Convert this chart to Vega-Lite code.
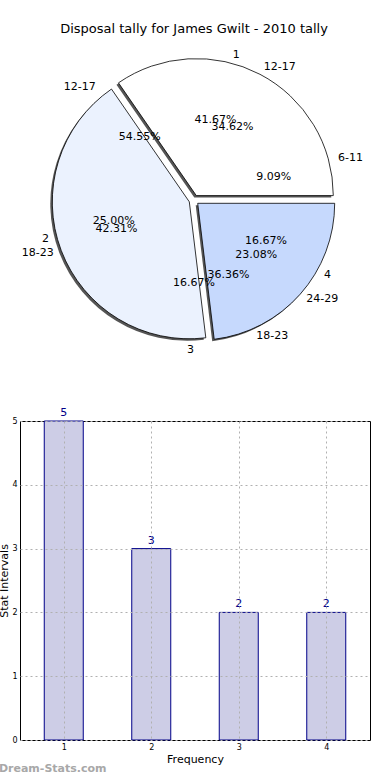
{
  "$schema": "https://vega.github.io/schema/vega-lite/v6.json",
  "padding": {"top": 23, "left": -2, "right": 0, "bottom": 0},
  "bounds": "flush",
  "spacing": 61,
  "config": {"font": "DejaVu Sans", "view": {"stroke": null}},
  "datasets": {
    "A": [
      {"k": 1, "label": "1", "v": 5, "pct": "41.67%"},
      {"k": 2, "label": "2", "v": 3, "pct": "25.00%"},
      {"k": 3, "label": "3", "v": 2, "pct": "16.67%"},
      {"k": 4, "label": "4", "v": 2, "pct": "16.67%"}
    ],
    "B": [
      {"k": 1, "label": "6-11", "v": 1, "pct": "9.09%"},
      {"k": 2, "label": "12-17", "v": 6, "pct": "54.55%"},
      {"k": 3, "label": "18-23", "v": 4, "pct": "36.36%"}
    ],
    "C": [
      {"k": 1, "label": "12-17", "v": 9, "pct": "34.62%"},
      {"k": 2, "label": "18-23", "v": 11, "pct": "42.31%"},
      {"k": 3, "label": "24-29", "v": 6, "pct": "23.08%"}
    ],
    "bars": [
      {"freq": 1, "count": 5},
      {"freq": 2, "count": 3},
      {"freq": 3, "count": 2},
      {"freq": 4, "count": 2}
    ]
  },
  "vconcat": [
    {
      "width": 348,
      "height": 320,
      "title": {"text": "Disposal tally for James Gwilt - 2010 tally", "fontSize": 13, "fontWeight": "normal", "offset": 4, "anchor": "middle", "color": "black"},
      "resolve": {"scale": {"theta": "independent"}},
      "layer": [
        {
          "data": {"name": "C"},
          "mark": {"type": "arc", "outerRadius": 137, "fill": "#555555", "xOffset": 0.3, "yOffset": -2.4},
          "encoding": {
            "theta": {"field": "v", "type": "quantitative", "stack": true, "scale": {"range": [1.5708, -4.7124]}},
            "order": {"field": "k"},
            "opacity": {"condition": {"test": "datum.k == 1", "value": 1}, "value": 0}
          }
        },
        {
          "data": {"name": "C"},
          "mark": {"type": "arc", "outerRadius": 137, "fill": "#555555", "xOffset": -6.7, "yOffset": 3.8},
          "encoding": {
            "theta": {"field": "v", "type": "quantitative", "stack": true, "scale": {"range": [1.5708, -4.7124]}},
            "order": {"field": "k"},
            "opacity": {"condition": {"test": "datum.k == 2", "value": 1}, "value": 0}
          }
        },
        {
          "data": {"name": "C"},
          "mark": {"type": "arc", "outerRadius": 137, "fill": "#555555", "xOffset": 1.7, "yOffset": 5.3},
          "encoding": {
            "theta": {"field": "v", "type": "quantitative", "stack": true, "scale": {"range": [1.5708, -4.7124]}},
            "order": {"field": "k"},
            "opacity": {"condition": {"test": "datum.k == 3", "value": 1}, "value": 0}
          }
        },
        {
          "data": {"name": "C"},
          "mark": {"type": "arc", "outerRadius": 137, "stroke": "black", "strokeWidth": 0.8, "xOffset": 2.3, "yOffset": -4.4},
          "encoding": {
            "theta": {"field": "v", "type": "quantitative", "stack": true, "scale": {"range": [1.5708, -4.7124]}},
            "order": {"field": "k"},
            "color": {"field": "k", "type": "nominal", "scale": {"domain": [1, 2, 3], "range": ["#ffffff", "#ebf2fe", "#c6d9fd"]}, "legend": null},
            "opacity": {"condition": {"test": "datum.k == 1", "value": 1}, "value": 0}
          }
        },
        {
          "data": {"name": "C"},
          "mark": {"type": "arc", "outerRadius": 137, "stroke": "black", "strokeWidth": 0.8, "xOffset": -4.7, "yOffset": 1.8},
          "encoding": {
            "theta": {"field": "v", "type": "quantitative", "stack": true, "scale": {"range": [1.5708, -4.7124]}},
            "order": {"field": "k"},
            "color": {"field": "k", "type": "nominal", "scale": {"domain": [1, 2, 3], "range": ["#ffffff", "#ebf2fe", "#c6d9fd"]}, "legend": null},
            "opacity": {"condition": {"test": "datum.k == 2", "value": 1}, "value": 0}
          }
        },
        {
          "data": {"name": "C"},
          "mark": {"type": "arc", "outerRadius": 137, "stroke": "black", "strokeWidth": 0.8, "xOffset": 3.7, "yOffset": 3.3},
          "encoding": {
            "theta": {"field": "v", "type": "quantitative", "stack": true, "scale": {"range": [1.5708, -4.7124]}},
            "order": {"field": "k"},
            "color": {"field": "k", "type": "nominal", "scale": {"domain": [1, 2, 3], "range": ["#ffffff", "#ebf2fe", "#c6d9fd"]}, "legend": null},
            "opacity": {"condition": {"test": "datum.k == 3", "value": 1}, "value": 0}
          }
        },
        {
          "data": {"name": "A"},
          "mark": {"type": "text", "radius": 83, "fontSize": 11, "baseline": "middle", "align": "center", "color": "black"},
          "encoding": {
            "theta": {"field": "v", "type": "quantitative", "stack": true, "scale": {"range": [1.5708, -4.7124]}},
            "order": {"field": "k"},
            "text": {"field": "pct"}
          }
        },
        {
          "data": {"name": "B"},
          "mark": {"type": "text", "radius": 83, "fontSize": 11, "baseline": "middle", "align": "center", "color": "black"},
          "encoding": {
            "theta": {"field": "v", "type": "quantitative", "stack": true, "scale": {"range": [1.5708, -4.7124]}},
            "order": {"field": "k"},
            "text": {"field": "pct"}
          }
        },
        {
          "data": {"name": "C"},
          "mark": {"type": "text", "radius": 83, "fontSize": 11, "baseline": "middle", "align": "center", "color": "black"},
          "encoding": {
            "theta": {"field": "v", "type": "quantitative", "stack": true, "scale": {"range": [1.5708, -4.7124]}},
            "order": {"field": "k"},
            "text": {"field": "pct"}
          }
        },
        {
          "data": {"name": "A"},
          "mark": {"type": "text", "radius": 150, "fontSize": 11, "baseline": "middle", "align": "left", "color": "black"},
          "encoding": {
            "theta": {"field": "v", "type": "quantitative", "stack": true, "scale": {"range": [1.5708, -4.7124]}},
            "order": {"field": "k"},
            "text": {"field": "label"},
            "opacity": {"condition": {"test": "datum.k == 1 || datum.k == 4", "value": 1}, "value": 0}
          }
        },
        {
          "data": {"name": "A"},
          "mark": {"type": "text", "radius": 150, "fontSize": 11, "baseline": "middle", "align": "right", "color": "black"},
          "encoding": {
            "theta": {"field": "v", "type": "quantitative", "stack": true, "scale": {"range": [1.5708, -4.7124]}},
            "order": {"field": "k"},
            "text": {"field": "label"},
            "opacity": {"condition": {"test": "datum.k == 2 || datum.k == 3", "value": 1}, "value": 0}
          }
        },
        {
          "data": {"name": "B"},
          "mark": {"type": "text", "radius": 150, "fontSize": 11, "baseline": "middle", "align": "left", "color": "black"},
          "encoding": {
            "theta": {"field": "v", "type": "quantitative", "stack": true, "scale": {"range": [1.5708, -4.7124]}},
            "order": {"field": "k"},
            "text": {"field": "label"},
            "opacity": {"condition": {"test": "datum.k == 1 || datum.k == 3", "value": 1}, "value": 0}
          }
        },
        {
          "data": {"name": "B"},
          "mark": {"type": "text", "radius": 150, "fontSize": 11, "baseline": "middle", "align": "right", "color": "black"},
          "encoding": {
            "theta": {"field": "v", "type": "quantitative", "stack": true, "scale": {"range": [1.5708, -4.7124]}},
            "order": {"field": "k"},
            "text": {"field": "label"},
            "opacity": {"condition": {"test": "datum.k == 2", "value": 1}, "value": 0}
          }
        },
        {
          "data": {"name": "C"},
          "mark": {"type": "text", "radius": 150, "fontSize": 11, "baseline": "middle", "align": "left", "color": "black"},
          "encoding": {
            "theta": {"field": "v", "type": "quantitative", "stack": true, "scale": {"range": [1.5708, -4.7124]}},
            "order": {"field": "k"},
            "text": {"field": "label"},
            "opacity": {"condition": {"test": "datum.k == 1 || datum.k == 3", "value": 1}, "value": 0}
          }
        },
        {
          "data": {"name": "C"},
          "mark": {"type": "text", "radius": 150, "fontSize": 11, "baseline": "middle", "align": "right", "color": "black"},
          "encoding": {
            "theta": {"field": "v", "type": "quantitative", "stack": true, "scale": {"range": [1.5708, -4.7124]}},
            "order": {"field": "k"},
            "text": {"field": "label"},
            "opacity": {"condition": {"test": "datum.k == 2", "value": 1}, "value": 0}
          }
        }
      ]
    },
    {
      "width": 350,
      "height": 319,
      "view": {"stroke": "black", "strokeWidth": 1},
      "title": {"text": "Dream-Stats.com", "orient": "bottom", "anchor": "start", "frame": "bounds", "fontSize": 11, "fontWeight": "bold", "color": "#a8a8a8", "offset": -1},
      "data": {"name": "bars"},
      "encoding": {
        "x": {
          "field": "freq", "type": "quantitative",
          "scale": {"domain": [0.5, 4.5], "nice": false, "zero": false, "padding": 0},
          "axis": {"values": [1, 2, 3, 4], "format": "d", "title": "Frequency", "titleFontSize": 11, "titleFontWeight": "normal", "titleColor": "black", "titlePadding": 2, "labelFontSize": 8, "labelColor": "black", "labelPadding": 3, "ticks": false, "domain": false, "grid": true, "gridDash": [2, 3], "gridColor": "#b0b0b0", "gridOpacity": 1, "zindex": 1}
        },
        "y": {
          "field": "count", "type": "quantitative",
          "scale": {"domain": [0, 5], "nice": false, "padding": 0},
          "axis": {"values": [0, 1, 2, 3, 4, 5], "format": "d", "title": "Stat Intervals", "titleFontSize": 11, "titleFontWeight": "normal", "titleColor": "black", "titlePadding": 2, "labelFontSize": 8, "labelColor": "black", "labelPadding": 3, "ticks": false, "domain": false, "grid": true, "gridDash": [2, 3], "gridColor": "#b0b0b0", "gridOpacity": 1, "zindex": 1}
        }
      },
      "layer": [
        {"mark": {"type": "bar", "width": 39, "fill": "#cdcde6", "stroke": "#000088", "strokeWidth": 1}},
        {"mark": {"type": "text", "baseline": "bottom", "dy": -3, "color": "#000088", "fontSize": 11}, "encoding": {"text": {"field": "count"}}}
      ]
    }
  ]
}
